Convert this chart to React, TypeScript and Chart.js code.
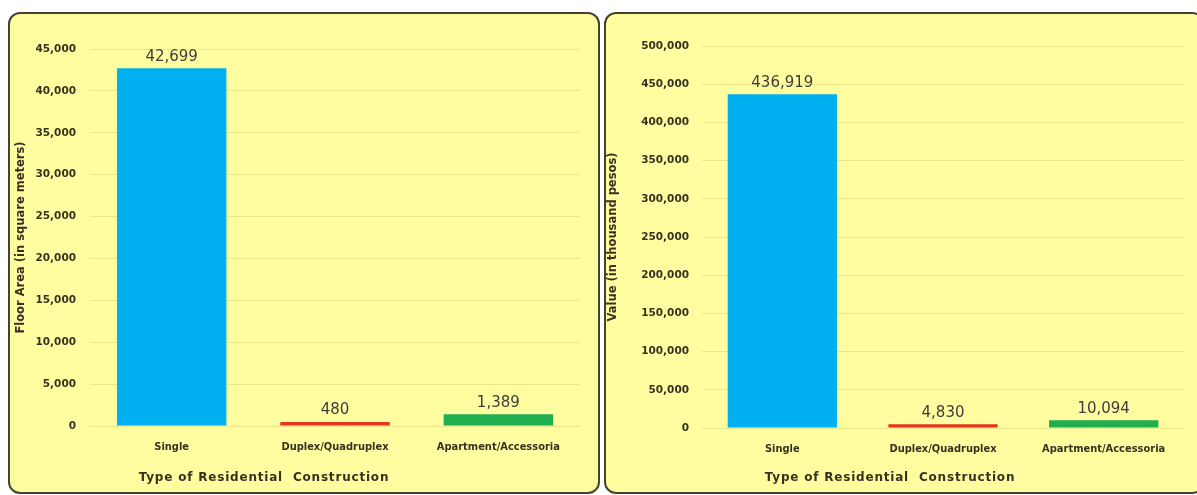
import React, { useEffect, useRef } from "react";
import { Chart, registerables } from "chart.js";
Chart.register(...registerables);

// ---- data ----
const categories = ["Single", "Duplex/Quadruplex", "Apartment/Accessoria"];
const floorAreaValues = [42699, 480, 1389];
const constructionValues = [436919, 4830, 10094];
const barColors = ["#00B0F0", "#E5351D", "#1FAF4F"];
const floorAreaAxis = [0, 45000, 5000]; // min, max, step
const valueAxis = [0, 500000, 50000];
const floorAreaTitle = "Floor Area (in square meters)";
const valueTitle = "Value (in thousand pesos)";
const xAxisTitle = "Type of Residential  Construction";

const TEXT = "#35331f";
const BG = "#FFFD9F";
const BORDER = "#45422F";

const overlay = {
  id: "overlay",
  afterDatasetsDraw(chart: any, _args: any, opts: any) {
    const ctx = chart.ctx;
    const meta = chart.getDatasetMeta(0);
    ctx.save();
    ctx.font = "15px 'DejaVu Sans', sans-serif";
    ctx.fillStyle = "#3d3d3d";
    ctx.textAlign = "center";
    ctx.textBaseline = "bottom";
    meta.data.forEach((el: any, i: number) => {
      const v = chart.data.datasets[0].data[i] as number;
      ctx.fillText(v.toLocaleString("en-US"), el.x, el.y - 4);
    });
    ctx.font = "bold 12px 'DejaVu Sans', sans-serif";
    try {
      (ctx as any).letterSpacing = "0.8px";
    } catch (e) {}
    ctx.fillStyle = TEXT;
    ctx.textBaseline = "middle";
    const ca = chart.chartArea;
    ctx.fillText(opts.title, ca.left + ca.width * opts.titleFrac, opts.titleY);
    ctx.restore();
  },
};

type PanelProps = {
  values: number[];
  axis: number[];
  yTitle: string;
  left: number;
  width: number;
  yAxisWidth: number;
  xAxisHeight: number;
  top: number;
  tickPad: number;
  titlePad: number;
  barPct: number;
  titleFrac: number;
};

function Panel(p: PanelProps) {
  const ref = useRef<HTMLCanvasElement>(null);
  useEffect(() => {
    const chart = new Chart(ref.current!, {
      type: "bar",
      data: {
        labels: categories,
        datasets: [
          {
            data: p.values,
            backgroundColor: barColors,
            borderWidth: 0,
            categoryPercentage: 1,
            barPercentage: p.barPct,
          },
        ],
      },
      plugins: [overlay],
      options: {
        animation: false,
        responsive: false,
        layout: { padding: { top: p.top, right: 18, left: 0, bottom: 0 } },
        plugins: {
          legend: { display: false },
          tooltip: { enabled: false },
          overlay: { title: xAxisTitle, titleFrac: p.titleFrac, titleY: 464 },
        } as any,
        scales: {
          x: {
            grid: { display: false, drawTicks: false },
            border: { display: false },
            ticks: {
              padding: 15,
              color: TEXT,
              font: {
                family: "'DejaVu Sans Condensed', 'Liberation Sans Narrow', 'DejaVu Sans', sans-serif",
                weight: "bold",
                size: 11,
              },
            },
            afterFit: (s: any) => {
              s.height = p.xAxisHeight;
            },
          },
          y: {
            min: p.axis[0],
            max: p.axis[1],
            grid: { color: "rgba(200,190,110,0.35)", drawTicks: false, lineWidth: 1 },
            border: { display: false },
            ticks: {
              stepSize: p.axis[2],
              padding: p.tickPad,
              color: TEXT,
              font: { family: "'DejaVu Sans', sans-serif", weight: "bold", size: 10.5 },
              callback: (v: any) => Number(v).toLocaleString("en-US"),
            },
            title: {
              display: true,
              text: p.yTitle,
              color: TEXT,
              padding: { top: p.titlePad, bottom: 0 },
              font: { family: "'DejaVu Sans', sans-serif", weight: "bold", size: 11.5 },
            },
            afterFit: (s: any) => {
              s.width = p.yAxisWidth;
            },
          },
        },
      },
    });
    return () => chart.destroy();
  }, []);
  return (
    <div
      style={{
        position: "absolute",
        left: p.left,
        top: 12,
        width: p.width,
        height: 478,
        border: `2px solid ${BORDER}`,
        borderRadius: 12,
        background: BG,
        overflow: "hidden",
      }}
    >
      <canvas ref={ref} width={p.width} height={478} style={{ display: "block" }} />
    </div>
  );
}

export default function App() {
  return (
    <div
      style={{
        position: "absolute",
        left: 0,
        top: 0,
        width: 1197,
        height: 495,
        overflow: "hidden",
        background: "#fff",
      }}
    >
      <Panel
        values={floorAreaValues}
        axis={floorAreaAxis}
        yTitle={floorAreaTitle}
        left={8}
        width={588}
        yAxisWidth={80}
        xAxisHeight={66}
        top={35}
        tickPad={14}
        titlePad={4}
        barPct={0.67}
        titleFrac={0.355}
      />
      <Panel
        values={constructionValues}
        axis={valueAxis}
        yTitle={valueTitle}
        left={604}
        width={596}
        yAxisWidth={96}
        xAxisHeight={64}
        top={32}
        tickPad={13}
        titlePad={0}
        barPct={0.68}
        titleFrac={0.39}
      />
    </div>
  );
}
